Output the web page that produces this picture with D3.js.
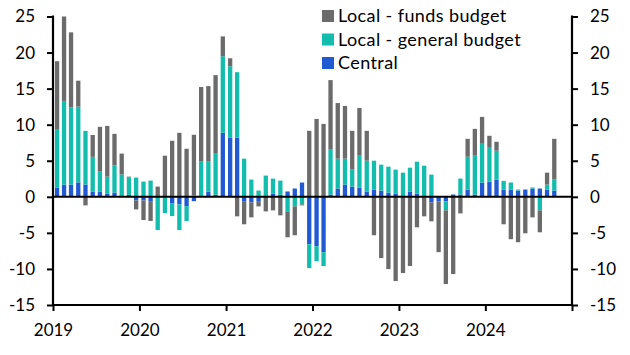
<!DOCTYPE html>
<html><head><meta charset="utf-8">
<script src="https://cdn.jsdelivr.net/npm/d3@7"></script>
<style>
html,body{margin:0;padding:0;background:#fff;}
svg{display:block;font-family:Lato,"Open Sans",sans-serif;}
</style></head>
<body>
<svg id="chart" width="630" height="355"></svg>
<script>
// Monthly data, Jan 2019 - Oct 2024
const startYear = 2019, startMonth = 0, nMonths = 70;
const central = [1.3,1.7,1.7,2.0,1.7,0.74,0.74,0.46,0.6,0.2,0.28,-0.5,
  -0.5,-0.6,0,0,-0.87,-1.06,-1.29,-0.6,0,0.74,0.28,8.87,
  8.18,8.18,-0.6,-0.78,-0.6,0,0.46,0.28,0.74,1.15,1.98,-6.57,
  -6.85,-7.67,0.32,1.15,1.70,1.42,1.29,0.74,1.01,0.87,0.6,0.46,
  0,0.74,0.46,0,-0.78,-0.64,-0.64,0.32,0.32,1.01,0.32,1.98,
  2.11,2.39,1.01,1.01,0.87,1.01,1.15,1.15,1.01,0.87];
const general = [8.1,11.6,10.7,10.5,7.45,4.8,2.75,2.34,3.77,2.9,2.43,2.67,
  2.11,2.25,-4.6,-2.25,-1.8,-3.54,-2.06,0.2,4.87,4.13,5.69,10.62,
  9.92,9.1,5.29,2.39,0.87,2.94,2.07,1.97,-2.02,-1.33,-1.06,-3.31,
  -2.07,-1.93,6.21,4.14,3.59,2.35,4.41,4.27,4.0,3.59,3.58,3.31,
  3.35,3.3,4.41,4.32,3.08,0,-1.24,0,2.21,4.55,5.38,5.37,
  4.69,4.0,1.2,0.97,0.14,0,0.14,-1.88,0.69,1.52];
const funds = [9.4,11.7,10.4,3.6,-1.19,3.03,6.21,7.03,4.36,2.89,0.09,-1.25,
  -2.72,-2.75,1.42,5.70,7.77,8.87,6.66,8.4,10.35,10.48,10.9,2.75,
  1.11,-2.71,-3.21,-2.07,-0.73,-2.02,-1.88,-2.57,-3.59,-4.0,-0.13,9.15,
  10.8,10.11,9.65,7.71,7.3,5.38,6.62,4.14,-5.33,-8.5,-10.02,-11.67,
  -10.57,-9.6,-4.23,-2.71,-2.62,-7.03,-10.21,-10.71,-2.3,2.48,3.72,3.73,
  1.66,1.24,-3.81,-5.88,-6.3,-5.06,-2.85,-3.04,1.65,5.65];
const seriesKeys = ["central","general","funds"];
const legendLabels = ["Local - funds budget","Local - general budget","Central"];
const legendKeys = ["funds","general","central"];
const yTicks = [-15,-10,-5,0,5,10,15,20,25];
const xTickYears = [2019,2020,2021,2022,2023,2024,2025];
const colors = {central:"#2159d3", general:"#13bdad", funds:"#6b6b6b"};

const rows = d3.range(nMonths).map(i => ({
  date: new Date(startYear, startMonth + i, 1),
  central: central[i], general: general[i], funds: funds[i]
}));

const svg = d3.select("#chart");
const L = 53, R = 572, T = 16.5, B = 305;
const x = d3.scaleTime().domain([new Date(2019,0,1), new Date(2025,0,1)]).range([L, R]);
const y = d3.scaleLinear().domain([-15, 25]).range([B, T]);

const stack = d3.stack().keys(seriesKeys).offset(d3.stackOffsetDiverging);
const stacked = stack(rows);
const barW = 4.3;

svg.append("g").selectAll("g").data(stacked).join("g")
  .attr("fill", d => colors[d.key])
  .selectAll("rect").data(d => d).join("rect")
  .attr("x", d => {
    const a = x(d.data.date), b = x(d3.timeMonth.offset(d.data.date, 1));
    return (a + b) / 2 - barW / 2 + 0.4;
  })
  .attr("width", barW)
  .attr("y", d => y(Math.max(d[0], d[1])))
  .attr("height", d => Math.abs(y(d[0]) - y(d[1])));

// zero line
svg.append("line").attr("x1", L).attr("x2", R).attr("y1", y(0)).attr("y2", y(0))
  .attr("stroke", "#000").attr("stroke-width", 2);

const fs = 17;
const gl = svg.append("g").attr("transform", `translate(${L},0)`)
  .call(d3.axisLeft(y).tickValues(yTicks).tickSize(6).tickPadding(12).tickSizeOuter(0));
const gr = svg.append("g").attr("transform", `translate(${R},0)`)
  .call(d3.axisRight(y).tickValues(yTicks).tickSize(6).tickPadding(12).tickSizeOuter(0));
const gb = svg.append("g").attr("transform", `translate(0,${B})`)
  .call(d3.axisBottom(x).tickValues(xTickYears.map(yr => new Date(yr,0,1)))
    .tickFormat(d => d.getFullYear() === 2025 ? "" : d.getFullYear())
    .tickSize(6).tickPadding(13).tickSizeOuter(0));

[gl, gr, gb].forEach(g => {
  g.select(".domain").attr("stroke", "#000").attr("stroke-width", 2.2);
  g.selectAll(".tick line").attr("stroke", "#000").attr("stroke-width", 2);
  g.selectAll(".tick text").attr("fill", "#000").attr("font-size", fs)
    .attr("font-family", "Lato, 'Open Sans', sans-serif");
});
gl.select(".domain").attr("d", `M0,${T-1}V${B+1}`);
gr.select(".domain").attr("d", `M0,${T-1}V${B+1}`);
gb.select(".domain").attr("d", `M${L-1},0H${R+1}`);
gl.selectAll(".tick text").text(d => d < 0 ? "-" + Math.abs(d) : d);
gr.selectAll(".tick text").text(d => d < 0 ? "-" + Math.abs(d) : d);

// legend
const lg = svg.append("g").attr("transform", "translate(322,10)");
legendKeys.forEach((k, i) => {
  lg.append("rect").attr("x", 0).attr("y", i * 23.5).attr("width", 12).attr("height", 12)
    .attr("fill", colors[k]);
  lg.append("text").attr("x", 16).attr("y", i * 23.5 + 6).attr("dy", "0.36em")
    .attr("font-size", 18).attr("letter-spacing", "0.4px")
    .attr("fill", "#000").text(legendLabels[i]);
});
</script>
</body></html>
